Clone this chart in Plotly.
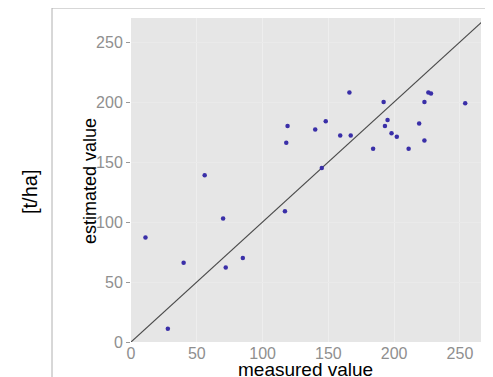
import plotly.graph_objects as go

measured = [11, 28, 40, 56, 70, 72, 85, 117, 118, 119, 140, 145, 148, 159, 166, 167,
            184, 192, 193, 195, 198, 202, 211, 219, 223, 223, 226, 228, 254]
estimated = [87, 11, 66, 139, 103, 62, 70, 109, 166, 180, 177, 145, 184, 172, 208, 172,
             161, 200, 180, 185, 174, 171, 161, 182, 200, 168, 208, 207, 199]
tick_vals = [0, 50, 100, 150, 200, 250]
line_ends = [0, 270]

OFF = 8  # page body margin
W, H = 493 - OFF, 377 - OFF
L, R, T, B = 131 - OFF, 12, 18 - OFF, 35
pw, ph = W - L - R, H - T - B

fig = go.Figure()
fig.add_trace(go.Scatter(x=line_ends, y=line_ends, mode="lines",
                         line=dict(color="#4a4a4a", width=1.2), hoverinfo="skip"))
fig.add_trace(go.Scatter(x=measured, y=estimated, mode="markers",
                         marker=dict(color="#3a2fa8", size=4.5)))

def px2paper_x(px):
    return (px - OFF - L) / pw

def py2paper_y(py):
    return (H - B - (py - OFF)) / ph

fig.update_layout(
    width=W, height=H, showlegend=False,
    margin=dict(l=L, r=R, t=T, b=B),
    paper_bgcolor="white", plot_bgcolor="#e6e6e6",
    font=dict(family="Liberation Sans, Arial", color="#8f8f8f", size=16),
    xaxis=dict(range=[0, 266], tickvals=tick_vals, showgrid=True, gridcolor="#eeeeee",
               gridwidth=1, zeroline=False, ticks="", showline=False,
               tickfont=dict(size=16, color="#8f8f8f")),
    yaxis=dict(range=[0, 270], tickvals=tick_vals, showgrid=True, gridcolor="#eaeaea",
               gridwidth=1, zeroline=False, ticks="outside", ticklen=4, tickcolor="#999",
               showline=False, tickfont=dict(size=16, color="#8f8f8f")),
    shapes=[
        dict(type="line", xref="paper", yref="paper",
             x0=px2paper_x(52), x1=px2paper_x(493), y0=py2paper_y(8), y1=py2paper_y(8),
             line=dict(color="#b0b0b0", width=1)),
        dict(type="line", xref="paper", yref="paper",
             x0=px2paper_x(52), x1=px2paper_x(52), y0=py2paper_y(8), y1=py2paper_y(377),
             line=dict(color="#b0b0b0", width=1)),
    ],
    annotations=[
        dict(text="measured value", xref="paper", yref="paper",
             x=px2paper_x(305), y=py2paper_y(369), showarrow=False,
             font=dict(size=19, color="black"), xanchor="center", yanchor="middle"),
        dict(text="estimated value", xref="paper", yref="paper",
             x=px2paper_x(90), y=py2paper_y(181), showarrow=False, textangle=-90,
             font=dict(size=18, color="black"), xanchor="center", yanchor="middle"),
        dict(text="[t/ha]", xref="paper", yref="paper",
             x=px2paper_x(30), y=py2paper_y(192), showarrow=False, textangle=-90,
             font=dict(size=20, color="black"), xanchor="center", yanchor="middle"),
    ],
)

fig.write_html("out.html")
